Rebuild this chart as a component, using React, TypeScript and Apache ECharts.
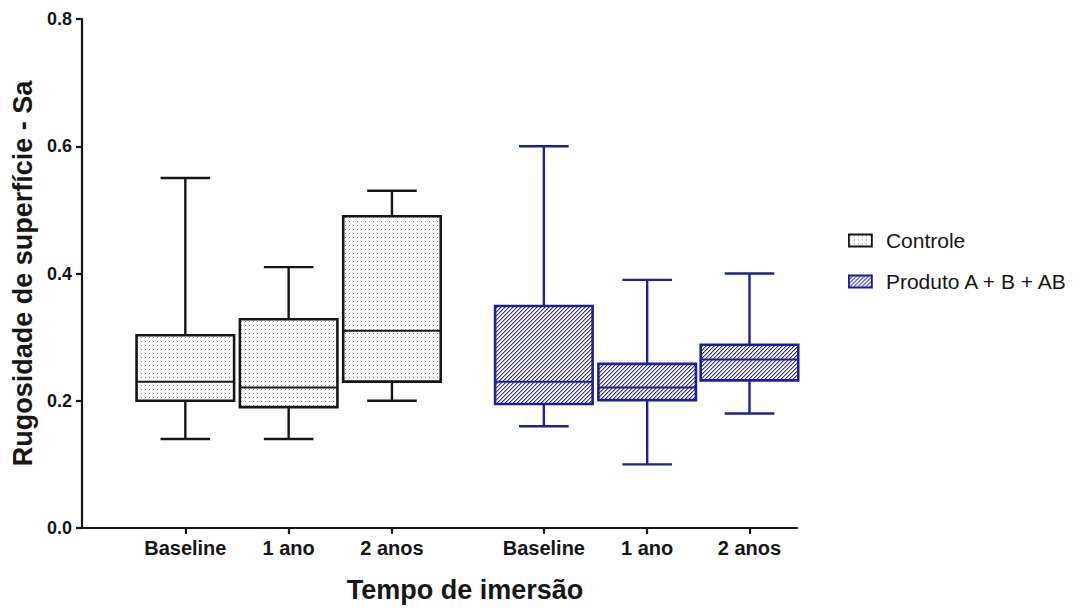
import React, { useEffect, useRef } from "react";
import * as echarts from "echarts";

// ---- data ----
const categories = ["Baseline", "1 ano", "2 anos", "Baseline", "1 ano", "2 anos"];
const positions = [1, 2, 3, 4.47, 5.47, 6.46];
const seriesNames = ["Controle", "Produto A + B + AB"];
// [min, Q1, median, Q3, max]
const controleBoxes = [
  [0.14, 0.2, 0.23, 0.303, 0.55],
  [0.14, 0.19, 0.221, 0.328, 0.41],
  [0.2, 0.23, 0.31, 0.49, 0.53],
];
const produtoBoxes = [
  [0.16, 0.195, 0.23, 0.349, 0.6],
  [0.1, 0.201, 0.221, 0.258, 0.39],
  [0.18, 0.232, 0.265, 0.288, 0.4],
];
const controlePositions = positions.slice(0, 3);
const produtoPositions = positions.slice(3, 6);
const yTicks = [0, 0.2, 0.4, 0.6, 0.8];

const FONT = "'Liberation Sans', Arial, Helvetica, sans-serif";
const BLACK = "#161616";
const BLUE = "#1e1ea0";

function makeDots(): string {
  const c = document.createElement("canvas");
  c.width = 4;
  c.height = 4;
  const ctx = c.getContext("2d")!;
  ctx.fillStyle = "#ffffff";
  ctx.fillRect(0, 0, 4, 4);
  ctx.fillStyle = "#8a8a8a";
  ctx.fillRect(1, 1, 1, 1);
  return c.toDataURL();
}

function makeHatch(): string {
  const c = document.createElement("canvas");
  c.width = 4;
  c.height = 4;
  const ctx = c.getContext("2d")!;
  ctx.fillStyle = "#ffffff";
  ctx.fillRect(0, 0, 4, 4);
  ctx.fillStyle = "#a4a4dc";
  [[0, 0], [3, 1], [2, 2], [1, 3]].forEach(([x, y]) => ctx.fillRect(x, y, 1, 1));
  ctx.fillStyle = "#2c2cac";
  [[3, 0], [2, 1], [1, 2], [0, 3]].forEach(([x, y]) => ctx.fillRect(x, y, 1, 1));
  return c.toDataURL();
}

export default function App() {
  const ref = useRef<HTMLDivElement>(null);

  useEffect(() => {
    if (!ref.current) return;
    const chart = echarts.init(ref.current, undefined, { renderer: "svg" });

    const dotPattern: any = { image: makeDots(), repeat: "repeat", imageWidth: 4, imageHeight: 4 };
    const hatchPattern: any = { image: makeHatch(), repeat: "repeat", imageWidth: 4, imageHeight: 4 };

    const boxHalf = 0.472;
    const capHalf = 0.24;

    const makeRender = (stroke: string, fill: any) => (params: any, api: any) => {
      const x = api.value(0);
      const mn = api.value(1);
      const q1 = api.value(2);
      const md = api.value(3);
      const q3 = api.value(4);
      const mx = api.value(5);
      const c = api.coord([x, md]);
      const left = api.coord([x - boxHalf, q3]);
      const right = api.coord([x + boxHalf, q1]);
      const capL = api.coord([x - capHalf, mx])[0];
      const capR = api.coord([x + capHalf, mx])[0];
      const yMax = api.coord([x, mx])[1];
      const yMin = api.coord([x, mn])[1];
      const yQ3 = left[1];
      const yQ1 = right[1];
      const ls = { stroke, lineWidth: 2.4 };
      return {
        type: "group",
        children: [
          { type: "line", shape: { x1: c[0], y1: yMax, x2: c[0], y2: yQ3 }, style: ls },
          { type: "line", shape: { x1: capL, y1: yMax, x2: capR, y2: yMax }, style: ls },
          { type: "line", shape: { x1: c[0], y1: yQ1, x2: c[0], y2: yMin }, style: ls },
          { type: "line", shape: { x1: capL, y1: yMin, x2: capR, y2: yMin }, style: ls },
          {
            type: "rect",
            shape: { x: left[0], y: yQ3, width: right[0] - left[0], height: yQ1 - yQ3 },
            style: { fill, stroke, lineWidth: 2.6 },
          },
          { type: "line", shape: { x1: left[0], y1: c[1], x2: right[0], y2: c[1] }, style: { stroke, lineWidth: 2 } },
        ],
      };
    };

    const controleData = controleBoxes.map((b, i) => [controlePositions[i], ...b]);
    const produtoData = produtoBoxes.map((b, i) => [produtoPositions[i], ...b]);

    const labelFor = (v: number) => {
      const i = positions.findIndex((p) => Math.abs(p - v) < 1e-6);
      return i >= 0 ? categories[i] : "";
    };

    chart.setOption({
      animation: false,
      backgroundColor: "#ffffff",
      grid: { left: 82, right: 281, top: 19, bottom: 79, containLabel: false },
      xAxis: {
        type: "value",
        min: 0,
        max: 6.92,
        name: "Tempo de imersão",
        nameLocation: "middle",
        nameGap: 48,
        nameTextStyle: {
          fontFamily: FONT,
          fontSize: 27,
          fontWeight: "bold",
          color: BLACK,
          padding: [0, 0, 0, 51],
        },
        axisLine: { show: true, onZero: false, lineStyle: { color: BLACK, width: 2.2 } },
        axisTick: { show: true, length: 6, lineStyle: { color: BLACK, width: 2.2 }, customValues: positions },
        axisLabel: {
          customValues: positions,
          formatter: (v: number) => labelFor(v),
          fontFamily: FONT,
          fontSize: 20,
          fontWeight: "bold",
          color: BLACK,
          margin: 10,
        },
        splitLine: { show: false },
      },
      yAxis: {
        type: "value",
        min: 0,
        max: 0.8,
        interval: 0.2,
        name: "Rugosidade de superfície - Sa",
        nameLocation: "middle",
        nameGap: 37,
        nameTextStyle: { fontFamily: FONT, fontSize: 27, fontWeight: "bold", color: BLACK },
        axisLine: { show: true, lineStyle: { color: BLACK, width: 2.2 } },
        axisTick: { show: true, length: 6, lineStyle: { color: BLACK, width: 2.2 }, customValues: yTicks },
        axisLabel: {
          customValues: yTicks,
          formatter: (v: number) => v.toFixed(1),
          fontFamily: FONT,
          fontSize: 18,
          fontWeight: "bold",
          color: BLACK,
          margin: 10,
        },
        splitLine: { show: false },
      },
      legend: {
        orient: "vertical",
        left: 848,
        top: 230,
        padding: 0,
        itemWidth: 23,
        itemHeight: 12,
        itemGap: 20,
        icon: "rect",
        textStyle: { fontFamily: FONT, fontSize: 21, color: BLACK, padding: [0, 0, 0, 9] },
        data: [
          { name: seriesNames[0], itemStyle: { color: dotPattern, borderColor: BLACK, borderWidth: 1.8 } },
          { name: seriesNames[1], itemStyle: { color: hatchPattern, borderColor: BLUE, borderWidth: 1.8 } },
        ],
      },
      series: [
        {
          name: seriesNames[0],
          type: "custom",
          renderItem: makeRender(BLACK, dotPattern),
          encode: { x: 0, y: [1, 2, 3, 4, 5] },
          itemStyle: { color: dotPattern, borderColor: BLACK },
          data: controleData,
          z: 2,
        },
        {
          name: seriesNames[1],
          type: "custom",
          renderItem: makeRender(BLUE, hatchPattern),
          encode: { x: 0, y: [1, 2, 3, 4, 5] },
          itemStyle: { color: hatchPattern, borderColor: BLUE },
          data: produtoData,
          z: 2,
        },
      ],
    });

    return () => chart.dispose();
  }, []);

  return (
    <div
      ref={ref}
      style={{ position: "absolute", left: 0, top: 0, width: 1078, height: 608 }}
    />
  );
}
